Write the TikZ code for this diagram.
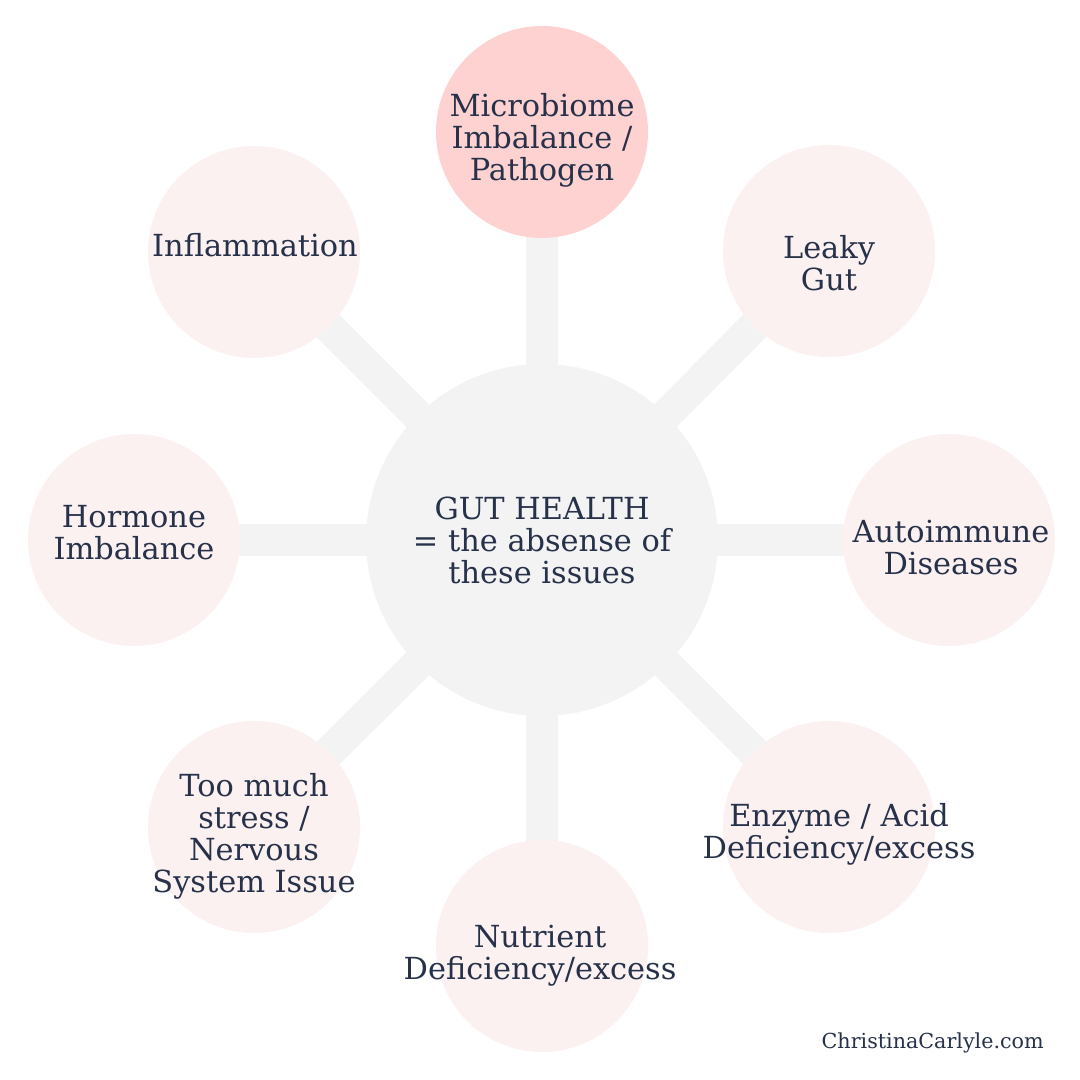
\documentclass[tikz,border=0pt]{standalone}
\usepackage{fontspec}
\setmainfont{DejaVu Serif}
\usetikzlibrary{backgrounds,calc}
\definecolor{hubgray}{HTML}{F3F3F3}
\definecolor{issuepink}{HTML}{FCF1F1}
\definecolor{keypink}{HTML}{FFD2D2}
\definecolor{textnavy}{HTML}{27324A}
\tikzset{
  hub/.style={circle, fill=hubgray, minimum size=264pt, inner sep=0pt},
  issue/.style={circle, fill=issuepink, minimum size=159pt, inner sep=0pt},
  issuetext/.style={align=center, inner sep=0pt, text=textnavy,
    font=\fontsize{22.8}{24}\selectfont},
  spoke/.style={line width=24pt, draw=hubgray},
  footer/.style={anchor=east, inner sep=0pt, text=textnavy,
    font=\fontsize{15.5}{18}\selectfont}
}
% circle at (x,y), then its text nudged by (dx,dy)
\newcommand{\issue}[7]{
  \node[issue, fill=#4] (#1) at (#2,#3) {};
  \node[issuetext] (#1-text) at ($(#1)+(#5,#6)$) {#7};
}

\begin{document}
\begin{tikzpicture}[x=0.75pt, y=0.75pt]
\useasboundingbox (0,0) rectangle (1080,1080);
\node[hub] (hub) at (542,540) {};
\node[issuetext] (hub-text) at (hub) {GUT HEALTH\\= the absense of\\these issues};
\issue{mic}{542}{948}{keypink}{0}{-8}{Microbiome\\Imbalance /\\Pathogen}
\issue{leaky}{829}{829}{issuepink}{0}{-12}{Leaky\\Gut}
\issue{auto}{949}{540}{issuepink}{2}{-8}{Autoimmune\\Diseases}
\issue{enzyme}{829}{253}{issuepink}{10}{-7}{Enzyme / Acid\\Deficiency/excess}
\issue{nutrient}{542}{134}{issuepink}{-2}{-10}{Nutrient\\Deficiency/excess}
\issue{stress}{254}{253}{issuepink}{0}{-9}{Too much\\stress /\\Nervous\\System Issue}
\issue{hormone}{134}{540}{issuepink}{0}{7}{Hormone\\Imbalance}
\issue{inflam}{254}{828}{issuepink}{1}{7}{Inflammation}
% spokes sit behind the circles
\begin{scope}[on background layer]
  \fill[white] (0,0) rectangle (1080,1080);
  \foreach \n in {mic,leaky,auto,enzyme,nutrient,stress,hormone,inflam}
    \draw[spoke] (hub.center) -- (\n.center);
\end{scope}
\node[footer] (site) at (1044,37) {ChristinaCarlyle.com};
\end{tikzpicture}
\end{document}
